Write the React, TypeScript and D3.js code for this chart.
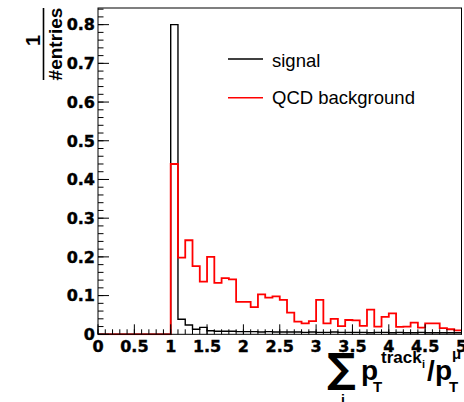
import React from "react";
import * as d3 from "d3";

// bin lower edges: 0.0 .. 4.9, width 0.1
const BIN_WIDTH = 0.1;
const signal = [
  0, 0, 0, 0, 0, 0, 0, 0, 0, 0,
  0.80, 0.039, 0.024, 0.013, 0.018, 0.009, 0.008, 0.008, 0.008, 0.007,
  0.007, 0.007, 0.006, 0.007, 0.006, 0.006, 0.006, 0.006, 0.005, 0.006,
  0.005, 0.005, 0.006, 0.005, 0.005, 0.005, 0.005, 0.004, 0.005, 0.005,
  0.004, 0.005, 0.004, 0.004, 0.005, 0.004, 0.004, 0.004, 0.004, 0.004,
];
const qcd = [
  0, 0, 0, 0, 0, 0, 0, 0, 0, 0,
  0.44, 0.198, 0.243, 0.176, 0.136, 0.2, 0.133, 0.145, 0.142, 0.084,
  0.084, 0.07, 0.103, 0.095, 0.098, 0.089, 0.056, 0.033, 0.028, 0.034,
  0.089, 0.028, 0.04, 0.021, 0.037, 0.036, 0.022, 0.064, 0.02, 0.045,
  0.054, 0.019, 0.02, 0.03, 0.017, 0.028, 0.028, 0.016, 0.013, 0.01,
];
const xTickValues = [0, 0.5, 1, 1.5, 2, 2.5, 3, 3.5, 4, 4.5, 5];
const xTickLabels = ["0", "0.5", "1", "1.5", "2", "2.5", "3", "3.5", "4", "4.5", "5"];
const yTickValues = [0, 0.1, 0.2, 0.3, 0.4, 0.5, 0.6, 0.7, 0.8];
const yTickLabels = ["0", "0.1", "0.2", "0.3", "0.4", "0.5", "0.6", "0.7", "0.8"];
const legendLabels = ["signal", "QCD background"];
const X_MAX = 5;
const Y_MAX = 0.843;

const W = 464;
const H = 402;
const L = 98;
const R = 461.5;
const T = 8;
const B = 334.3;

export default function App() {
  const x = d3.scaleLinear().domain([0, X_MAX]).range([L, R]);
  const y = d3.scaleLinear().domain([0, Y_MAX]).range([B, T]);

  const histPath = (vals: number[]) => {
    const pts: [number, number][] = vals.map((v, i) => [i * BIN_WIDTH, v]);
    pts.push([vals.length * BIN_WIDTH, vals[vals.length - 1]]);
    return d3
      .line<[number, number]>()
      .x((d) => x(d[0]))
      .y((d) => y(d[1]))
      .curve(d3.curveStepAfter)(pts) as string;
  };

  const xMinor = d3.range(0, X_MAX + 1e-9, 0.1);
  const yMinor = d3.range(0, Y_MAX, 0.02);

  const tickFont = "'DejaVu Sans', sans-serif";
  const helv = "'Liberation Sans', Arial, sans-serif";

  return (
    <div style={{ position: "fixed", left: 0, top: 0 }}>
      <svg width={W} height={H} style={{ display: "block", background: "#fff" }}>
        <defs>
          <clipPath id="frame">
            <rect x={L} y={T} width={R - L + 1} height={B - T + 1} />
          </clipPath>
        </defs>
        {/* histograms */}
        <g clipPath="url(#frame)" fill="none">
          <path d={histPath(signal)} stroke="#000" strokeWidth={1.4} />
          <path d={histPath(qcd)} stroke="#ff0000" strokeWidth={1.8} />
        </g>
        {/* frame */}
        <rect x={L} y={T} width={R - L} height={B - T} fill="none" stroke="#000" strokeWidth={1} />
        {/* y ticks */}
        {yMinor.map((v, i) => (
          <line key={"ym" + i} x1={L} x2={L + 5.5} y1={y(v)} y2={y(v)} stroke="#000" strokeWidth={1} />
        ))}
        {yTickValues.map((v, i) => (
          <line key={"yM" + i} x1={L} x2={L + 11} y1={y(v)} y2={y(v)} stroke="#000" strokeWidth={1} />
        ))}
        {yTickValues.map((v, i) => (
          <text
            key={"yl" + i}
            x={95}
            y={y(v) + 5.8}
            textAnchor="end"
            fontFamily={tickFont}
            fontWeight="bold"
            fontSize={16}
            fill="#000"
            stroke="#000"
            strokeWidth={0.4}
          >
            {yTickLabels[i]}
          </text>
        ))}
        {/* x ticks */}
        {xMinor.map((v, i) => (
          <line key={"xm" + i} x1={x(v)} x2={x(v)} y1={B} y2={B - 5} stroke="#000" strokeWidth={1} />
        ))}
        {xTickValues.map((v, i) => (
          <line key={"xM" + i} x1={x(v)} x2={x(v)} y1={B} y2={B - 10} stroke="#000" strokeWidth={1} />
        ))}
        {xTickValues.map((v, i) => (
          <text
            key={"xl" + i}
            x={x(v)}
            y={352}
            textAnchor="middle"
            fontFamily={tickFont}
            fontWeight="bold"
            fontSize={16}
            fill="#000"
            stroke="#000"
            strokeWidth={0.4}
          >
            {xTickLabels[i]}
          </text>
        ))}
        {/* legend */}
        <line x1={228} x2={263} y1={59} y2={59} stroke="#000" strokeWidth={1.3} />
        <text x={272} y={66.5} fontFamily={helv} fontSize={18.5} fill="#000">
          {legendLabels[0]}
        </text>
        <line x1={228} x2={263} y1={97.7} y2={97.7} stroke="#ff0000" strokeWidth={1.5} />
        <text x={272} y={104} fontFamily={helv} fontSize={18.5} fill="#000">
          {legendLabels[1]}
        </text>
        {/* y title: 1 / #entries */}
        <text
          transform="translate(40,40.5) rotate(-90)"
          textAnchor="middle"
          fontFamily={helv}
          fontWeight="bold"
          fontSize={20}
          fill="#000"
        >
          1
        </text>
        <line x1={43.5} x2={43.5} y1={8} y2={80} stroke="#000" strokeWidth={1.6} />
        <text
          transform="translate(62,44) rotate(-90)"
          textAnchor="middle"
          fontFamily={helv}
          fontWeight="bold"
          fontSize={19}
          fill="#000"
        >
          #entries
        </text>
        {/* x title */}
        <g fontFamily={helv} fontWeight="bold" fill="#000">
          <text x={327} y={382} fontSize={40} fontFamily={tickFont} fontWeight="bold">
            ∑
          </text>
          <text x={341} y={405} fontSize={14}>
            i
          </text>
          <text x={361} y={379.5} fontSize={28}>
            p
          </text>
          <text x={373} y={392} fontSize={15}>
            T
          </text>
          <text x={381} y={363} fontSize={17}>
            track
          </text>
          <text x={422} y={368} fontSize={11}>
            i
          </text>
          <text x={427} y={380} fontSize={28}>
            /
          </text>
          <text x={435} y={379.5} fontSize={28}>
            p
          </text>
          <text x={449} y={392} fontSize={15}>
            T
          </text>
          <text x={452} y={359} fontSize={15}>
            μ
          </text>
        </g>
      </svg>
    </div>
  );
}
